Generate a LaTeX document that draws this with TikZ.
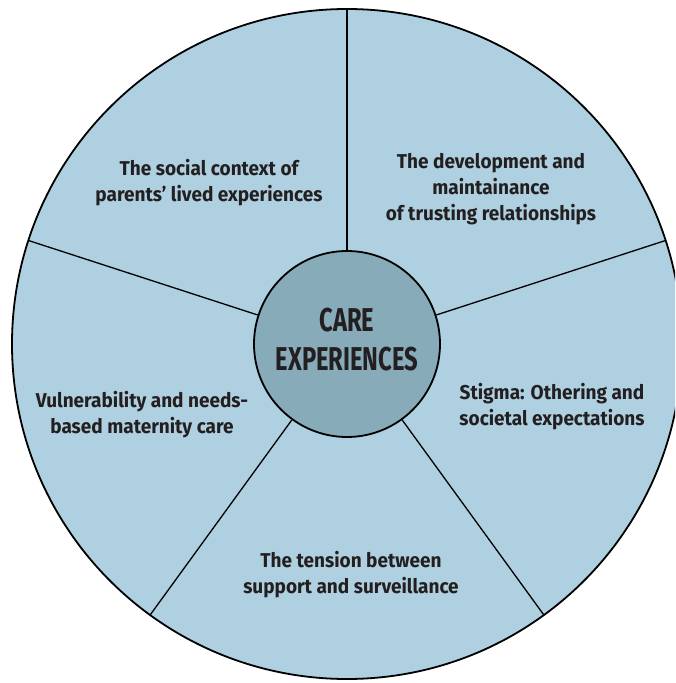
\documentclass[tikz,border=0pt]{standalone}
\usepackage{fontspec}
\setmainfont{Fira Sans}[FakeStretch=0.95]
\newfontfamily\hubfont{Fira Sans}[FakeStretch=0.72]
\definecolor{wheelblue}{RGB}{174,208,224}
\definecolor{hubblue}{RGB}{135,171,185}
\definecolor{inkgrey}{RGB}{35,31,32}
\tikzset{
  theme/.style={align=center, text=inkgrey, font=\bfseries\fontsize{20}{26}\selectfont},
  hubtext/.style={align=center, text=inkgrey, font=\hubfont\bfseries\fontsize{33}{39}\selectfont}
}
\begin{document}
\begin{tikzpicture}[x=1pt, y=1pt]
\useasboundingbox (-347,-339) rectangle (328,344);
\clip (-347,-339) rectangle (328,344);
% Wheel
\fill[white] (-347,-339) rectangle (328,344);
\draw[fill=wheelblue, line width=1.8pt] (0,0) circle (335);

% Hub
\node[circle, draw, line width=1.8pt, fill=hubblue, minimum size=186pt, inner sep=0pt] (hub) at (0,0) {};
\node[hubtext] (care) at (0,4) {CARE\\EXPERIENCES};

% Dividers
\foreach \a in {90,18,-54,-126,162}
{
  \coordinate (rim\a) at (\a:335);
  \draw[line width=1.3pt] (hub.\a) -- (rim\a);
}

% Themes
\node[theme] (social) at (-138,161) {The social context of\\parents’ lived experiences};
\node[theme] (trust) at (144,155) {The development and\\maintainance\\of trusting relationships};
\node[theme] (stigma) at (205,-63) {Stigma: Othering and\\societal expectations};
\node[theme] (tension) at (4,-231) {The tension between\\support and surveillance};
\node[theme] (needs) at (-205,-71) {Vulnerability and needs-\\based maternity care};
\end{tikzpicture}
\end{document}
